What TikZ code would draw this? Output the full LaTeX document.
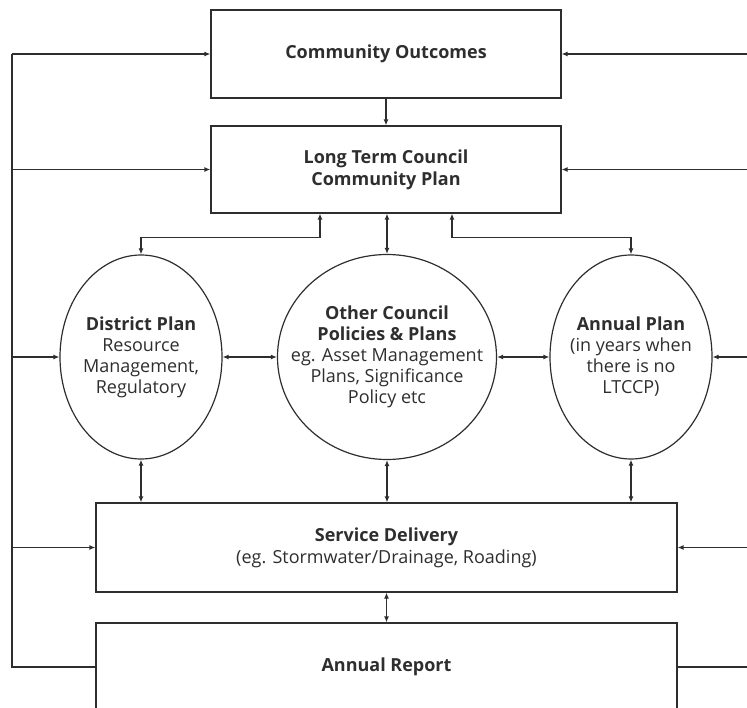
\documentclass[tikz,border=0pt]{standalone}
\usepackage{fontspec}
\setmainfont{Open Sans}
\usetikzlibrary{arrows.meta,shapes.geometric}

\definecolor{ink}{HTML}{2E2E2E}

\tikzset{
  wire/.style={draw=ink, line width=1.2pt},
  box/.style={draw=ink, line width=1.2pt, rectangle, minimum width=350pt,
    minimum height=88pt, align=center, text=ink, font=\fontsize{18}{22}\selectfont},
  oval/.style={draw=ink, line width=1.2pt, ellipse, inner sep=0pt,
    minimum width=162pt, minimum height=204pt},
  ovaltext/.style={align=center, text=ink, font=\fontsize{18}{21}\selectfont},
}

\begin{document}
\begin{tikzpicture}[x=1pt, y=-1pt, >={Latex[length=6pt,width=5pt]}]
    % Frame (the picture is cut at its edges)
    \useasboundingbox (0,0) rectangle (747,708);
    \clip (0,0) rectangle (747,708);

    % Planning boxes
    \node[box] (co) at (386,54) {\textbf{Community Outcomes}};
    \node[box, minimum height=87pt] (ltccp) at (386,169.5) {\textbf{Long Term Council}\\\textbf{Community Plan}};

    % Plans in the middle row
    \node[oval, label={[ovaltext]center:{\textbf{District Plan}\\Resource\\Management,\\Regulatory}}] (dp) at (141,357) {};
    \node[oval, minimum width=219pt, minimum height=205pt, label={[ovaltext]center:{\textbf{Other Council}\\\textbf{Policies \& Plans}\\eg. Asset Management\\Plans, Significance\\Policy etc}}] (ocp) at (387,357) {};
    \node[oval, label={[ovaltext]center:{\textbf{Annual Plan}\\(in years when\\there is no\\LTCCP)}}] (ap) at (631,357) {};

    % Delivery and reporting
    \node[box, minimum width=581pt, minimum height=89pt] (sd) at (386.5,547.5) {\textbf{Service Delivery}\\(eg. Stormwater/Drainage, Roading)};
    \node[box, minimum width=581pt] (ar) at (386.5,667) {\textbf{Annual Report}};

    % Links between the boxes
    \draw[wire, ->] (co.south) -- (ltccp.north);
    \draw[wire, <->] ([xshift=-66pt]ltccp.south) -- ++(0,24) -| (dp.north);
    \draw[wire, <->] (ltccp.south -| ocp.north) -- (ocp.north);
    \draw[wire, <->] ([xshift=66pt]ltccp.south) -- ++(0,24) -| (ap.north);
    \draw[wire, <->] (dp.east) -- (ocp.west);
    \draw[wire, <->] (ocp.east) -- (ap.west);
    \draw[wire, <->] (dp.south) -- (dp.south |- sd.north);
    \draw[wire, <->] (ocp.south) -- (ocp.south |- sd.north);
    \draw[wire, <->] (ap.south) -- (ap.south |- sd.north);
    \draw[wire, <->] (sd.south) -- (ar.north);

    % Feedback rail on the left
    \coordinate (railL) at (12,54);
    \draw[wire] (ar.west) -| (railL);
    \draw[wire, ->] (railL) -- (co.west);
    \draw[wire, ->] (railL |- ltccp.west) -- (ltccp.west);
    \draw[wire, ->] (railL |- dp.west) -- (dp.west);
    \draw[wire, ->] (railL |- sd.west) -- (sd.west);

    % Feedback rail on the right (outside the frame)
    \coordinate (railR) at (770,54);
    \draw[wire] (ar.east) -| (railR);
    \draw[wire, ->] (railR) -- (co.east);
    \draw[wire, ->] (railR |- ltccp.east) -- (ltccp.east);
    \draw[wire, ->] (railR |- ap.east) -- (ap.east);
    \draw[wire, ->] (railR |- sd.east) -- (sd.east);
\end{tikzpicture}
\end{document}
